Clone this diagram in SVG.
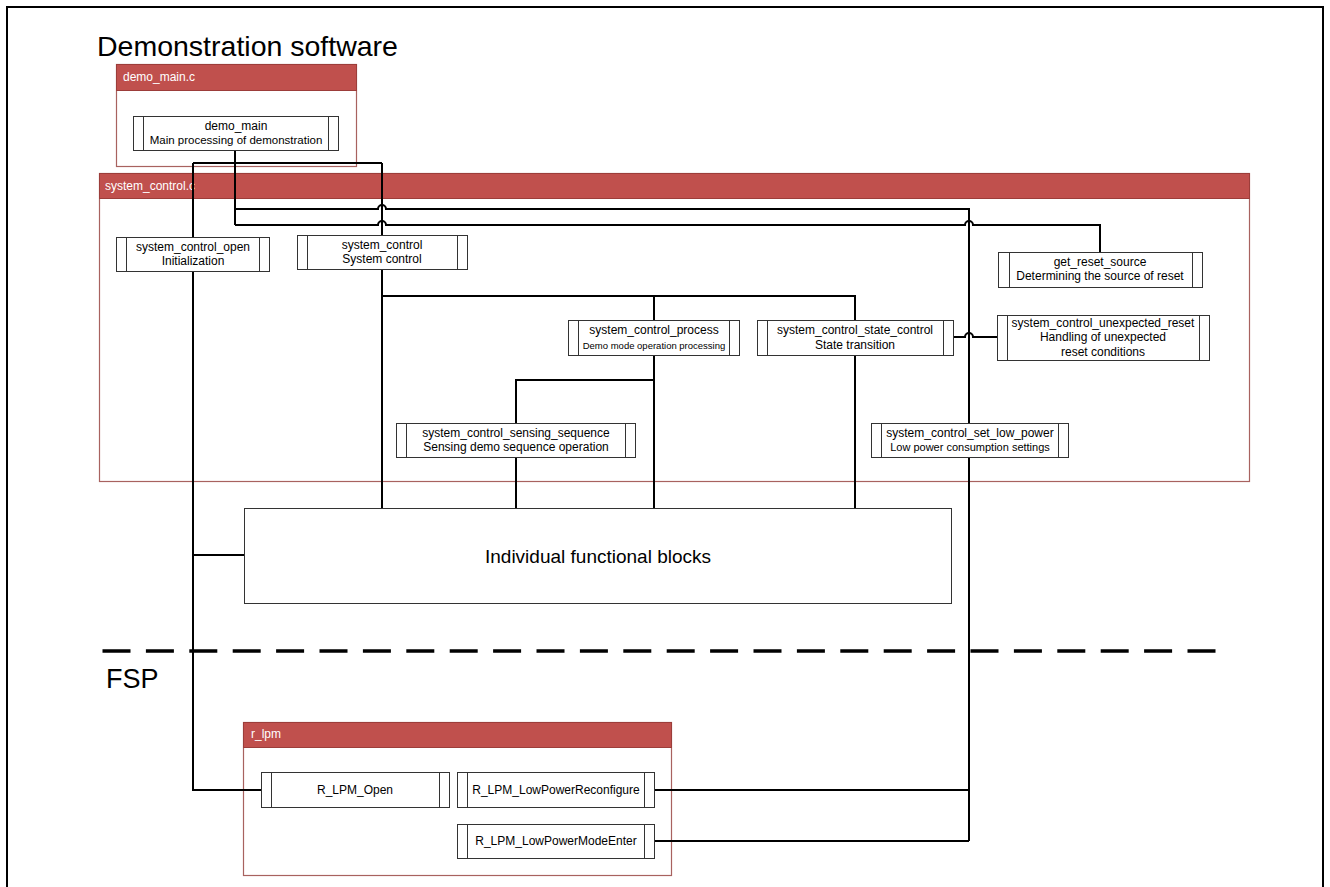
<svg xmlns="http://www.w3.org/2000/svg" width="1330" height="887" viewBox="0 0 1330 887">
  <style>
    text { font-family: "Liberation Sans", Arial, sans-serif; fill: #000; }
    .title { font-size: 28.5px; }
    .title-fsp { font-size: 27px; }
    .hdr-text { font-size: 12px; fill: #fff; }
    .lbl { font-size: 12px; text-anchor: middle; }
    .lbl-s { font-size: 9.5px; text-anchor: middle; }
    .lbl-m { font-size: 11px; text-anchor: middle; }
    .lbl-big { font-size: 19px; text-anchor: middle; }
    .module { fill: #fff; stroke: #a8625f; stroke-width: 1.2; }
    .module-hdr { fill: #c0504d; stroke: #9c3d3a; stroke-width: 1; }
    .fn { fill: #fff; stroke: #333; stroke-width: 1; }
    .bar { stroke: #333; stroke-width: 1; }
    .wire { fill: none; stroke: #000; stroke-width: 2; }
    .sep { fill: none; stroke: #000; stroke-width: 3.5; stroke-dasharray: 28 15.4; }
  </style>

  <!-- outer frame -->
  <rect x="7" y="7" width="1316" height="900" fill="#fff" stroke="#000" stroke-width="2"/>

  <text class="title" x="97" y="56">Demonstration software</text>
  <text class="title-fsp" x="106" y="688">FSP</text>

  <!-- source modules -->
  <g id="mod-demo-main">
    <rect class="module" x="116.5" y="64.5" width="240" height="102"/>
    <rect class="module-hdr" x="116.5" y="64.5" width="240" height="26"/>
    <text class="hdr-text" x="123" y="81">demo_main.c</text>
  </g>
  <g id="mod-system-control">
    <rect class="module" x="99.5" y="173.5" width="1150" height="308"/>
    <rect class="module-hdr" x="99.5" y="173.5" width="1150" height="25"/>
    <text class="hdr-text" x="105" y="190">system_control.c</text>
  </g>
  <g id="mod-r-lpm">
    <rect class="module" x="243.5" y="722.5" width="428" height="153"/>
    <rect class="module-hdr" x="243.5" y="722.5" width="428" height="25"/>
    <text class="hdr-text" x="251" y="738">r_lpm</text>
  </g>

  <!-- FSP boundary -->
  <line class="sep" x1="102.5" y1="651" x2="1216" y2="651"/>

  <!-- call connectors -->
  <g id="connectors">
    <path class="wire" d="M235 150 V225"/>
    <path class="wire" d="M235 209 H378 A4 4 0 0 1 386 209 H969 V841"/>
    <path class="wire" d="M235 225 H378 A4 4 0 0 1 386 225 H965 A4 4 0 0 1 973 225 H1100 V252"/>
    <path class="wire" d="M382 163 V235"/>
    <path class="wire" d="M193 163 H382"/>
    <path class="wire" d="M193 163 V790 H261"/>
    <path class="wire" d="M193 555 H244"/>
    <path class="wire" d="M382 269 V508"/>
    <path class="wire" d="M382 296 H855 V320"/>
    <path class="wire" d="M654 296 V320"/>
    <path class="wire" d="M654 355 V508"/>
    <path class="wire" d="M516 508 V380 H654"/>
    <path class="wire" d="M855 355 V508"/>
    <path class="wire" d="M953 337 H965 A4 4 0 0 1 973 337 H997"/>
    <path class="wire" d="M654 790 H969"/>
    <path class="wire" d="M654 841 H969"/>
  </g>

  <!-- functions -->
  <g id="demo_main">
    <rect class="fn" x="133.5" y="116.5" width="205" height="34"/>
    <path class="bar" d="M143.5 116.5 V150.5 M328.5 116.5 V150.5"/>
    <text class="lbl" x="236" y="130">demo_main</text>
    <text class="lbl" x="236" y="144" style="font-size:11.5px">Main processing of demonstration</text>
  </g>
  <g id="system_control_open">
    <rect class="fn" x="116.5" y="237.5" width="153" height="34"/>
    <path class="bar" d="M126.5 237.5 V271.5 M259.5 237.5 V271.5"/>
    <text class="lbl" x="193" y="251">system_control_open</text>
    <text class="lbl" x="193" y="265">Initialization</text>
  </g>
  <g id="system_control">
    <rect class="fn" x="297.5" y="235.5" width="170" height="34"/>
    <path class="bar" d="M307.5 235.5 V269.5 M457.5 235.5 V269.5"/>
    <text class="lbl" x="382" y="249">system_control</text>
    <text class="lbl" x="382" y="263">System control</text>
  </g>
  <g id="get_reset_source">
    <rect class="fn" x="998.5" y="252.5" width="204" height="35"/>
    <path class="bar" d="M1009.5 252.5 V287.5 M1192.5 252.5 V287.5"/>
    <text class="lbl" x="1100" y="266">get_reset_source</text>
    <text class="lbl" x="1100" y="280">Determining the source of reset</text>
  </g>
  <g id="system_control_process">
    <rect class="fn" x="568.5" y="320.5" width="171" height="35"/>
    <path class="bar" d="M578.5 320.5 V355.5 M729.5 320.5 V355.5"/>
    <text class="lbl" x="654" y="334">system_control_process</text>
    <text class="lbl-s" x="654" y="349">Demo mode operation processing</text>
  </g>
  <g id="system_control_state_control">
    <rect class="fn" x="757.5" y="320.5" width="196" height="35"/>
    <path class="bar" d="M767.5 320.5 V355.5 M943.5 320.5 V355.5"/>
    <text class="lbl" x="855" y="334">system_control_state_control</text>
    <text class="lbl" x="855" y="349">State transition</text>
  </g>
  <g id="system_control_unexpected_reset">
    <rect class="fn" x="997.5" y="315.5" width="212" height="45"/>
    <path class="bar" d="M1007.5 315.5 V360.5 M1199.5 315.5 V360.5"/>
    <text class="lbl" x="1103" y="327">system_control_unexpected_reset</text>
    <text class="lbl" x="1103" y="341">Handling of unexpected</text>
    <text class="lbl" x="1103" y="356">reset conditions</text>
  </g>
  <g id="system_control_sensing_sequence">
    <rect class="fn" x="396.5" y="423.5" width="239" height="34"/>
    <path class="bar" d="M406.5 423.5 V457.5 M625.5 423.5 V457.5"/>
    <text class="lbl" x="516" y="437">system_control_sensing_sequence</text>
    <text class="lbl" x="516" y="451">Sensing demo sequence operation</text>
  </g>
  <g id="system_control_set_low_power">
    <rect class="fn" x="871.5" y="423.5" width="197" height="34"/>
    <path class="bar" d="M881.5 423.5 V457.5 M1058.5 423.5 V457.5"/>
    <text class="lbl" x="970" y="437">system_control_set_low_power</text>
    <text class="lbl-m" x="970" y="451">Low power consumption settings</text>
  </g>
  <g id="individual_functional_blocks">
    <rect class="fn" x="244.5" y="508.5" width="707" height="95"/>
    <text class="lbl-big" x="598" y="563">Individual functional blocks</text>
  </g>
  <g id="R_LPM_Open">
    <rect class="fn" x="261.5" y="772.5" width="188" height="35"/>
    <path class="bar" d="M271.5 772.5 V807.5 M439.5 772.5 V807.5"/>
    <text class="lbl" x="355" y="794">R_LPM_Open</text>
  </g>
  <g id="R_LPM_LowPowerReconfigure">
    <rect class="fn" x="457.5" y="772.5" width="197" height="35"/>
    <path class="bar" d="M467.5 772.5 V807.5 M644.5 772.5 V807.5"/>
    <text class="lbl" x="556" y="794">R_LPM_LowPowerReconfigure</text>
  </g>
  <g id="R_LPM_LowPowerModeEnter">
    <rect class="fn" x="457.5" y="824.5" width="197" height="34"/>
    <path class="bar" d="M467.5 824.5 V858.5 M644.5 824.5 V858.5"/>
    <text class="lbl" x="556" y="845">R_LPM_LowPowerModeEnter</text>
  </g>
</svg>
